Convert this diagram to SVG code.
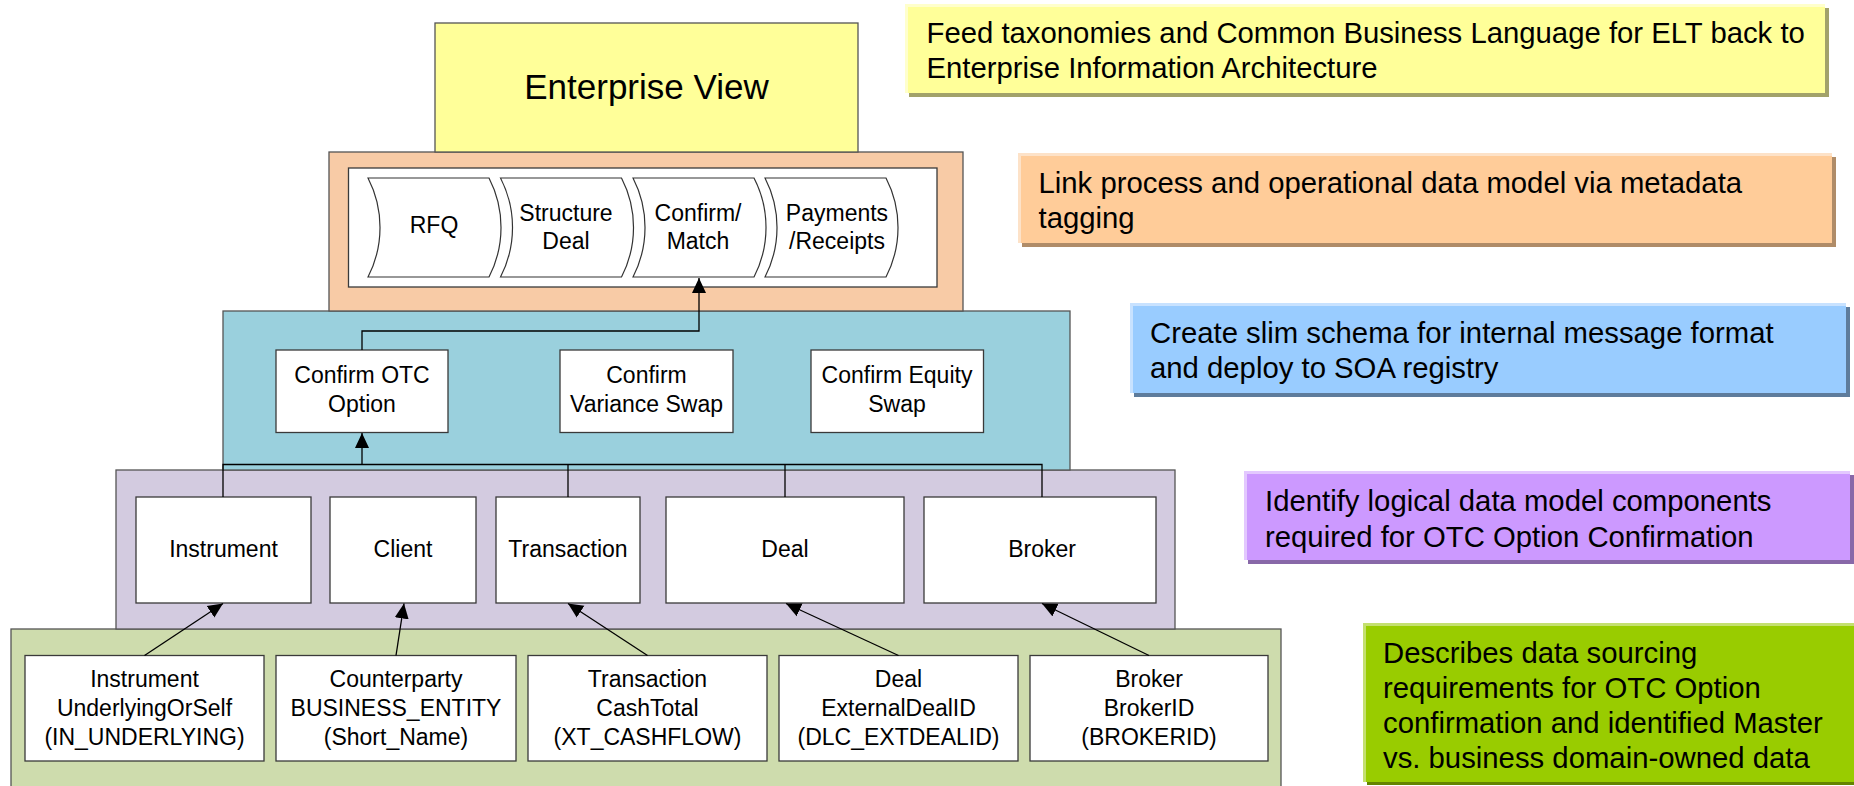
<svg xmlns="http://www.w3.org/2000/svg" width="1854" height="786" viewBox="0 0 1854 786">
  <defs>
    <marker id="arrow" markerUnits="userSpaceOnUse" markerWidth="16" markerHeight="15" viewBox="0 0 16 15" refX="15" refY="7.5" orient="auto">
      <path d="M0,0.5 L15,7.5 L0,14.5 Z" fill="#000"/>
    </marker>
  </defs>
  <style>
    .layer{stroke:#555;stroke-width:1.3}
    .box{fill:#fff;stroke:#3a3a3a;stroke-width:1.3}
    .step{fill:#fff;stroke:#333;stroke-width:1.2}
    .t{font-family:"Liberation Sans",Arial,sans-serif;font-size:23px;fill:#000;text-anchor:middle}
    .big{font-family:"Liberation Sans",Arial,sans-serif;font-size:35px;fill:#000;text-anchor:middle}
    .note{font-family:"Liberation Sans",Arial,sans-serif;font-size:29.3px;fill:#000}
    .wire{fill:none;stroke:#000;stroke-width:1.3}
  </style>

  <!-- stacked architecture layers -->
  <g id="layer-sourcing">
    <rect class="layer" x="11" y="629" width="1270" height="170" fill="#CEDCAD"/>
  </g>
  <g id="layer-logical">
    <rect class="layer" x="116" y="470" width="1059" height="159" fill="#D3CBE0"/>
  </g>
  <g id="layer-schema">
    <rect class="layer" x="223" y="311" width="847" height="159" fill="#9AD0DD"/>
  </g>
  <g id="layer-process">
    <rect class="layer" x="329" y="152" width="634" height="159" fill="#F8CBA6"/>
    <rect class="box" x="348.5" y="168" width="588.5" height="119"/>
  </g>
  <g id="enterprise-view">
    <rect class="layer" x="435" y="23" width="423" height="129" fill="#FFFF99"/>
    <text class="big" x="646.5" y="99">Enterprise View</text>
  </g>

  <!-- process steps: concave left edge, convex right edge -->
  <g id="step-rfq">
    <path class="step" d="M368,178 L489,178 A108,108 0 0 1 489,277 L368,277 A108,108 0 0 0 368,178 Z"/>
    <text class="t" x="434" y="233">RFQ</text>
  </g>
  <g id="step-structure-deal">
    <path class="step" d="M500.5,178 L621.5,178 A108,108 0 0 1 621.5,277 L500.5,277 A108,108 0 0 0 500.5,178 Z"/>
    <text class="t" x="566" y="221">Structure</text>
    <text class="t" x="566" y="248.5">Deal</text>
  </g>
  <g id="step-confirm-match">
    <path class="step" d="M633,178 L754,178 A108,108 0 0 1 754,277 L633,277 A108,108 0 0 0 633,178 Z"/>
    <text class="t" x="698" y="221">Confirm/</text>
    <text class="t" x="698" y="248.5">Match</text>
  </g>
  <g id="step-payments">
    <path class="step" d="M765,178 L886,178 A108,108 0 0 1 886,277 L765,277 A108,108 0 0 0 765,178 Z"/>
    <text class="t" x="837" y="221">Payments</text>
    <text class="t" x="837" y="248.5">/Receipts</text>
  </g>

  <!-- message schemas -->
  <g id="confirm-otc-option">
    <rect class="box" x="276" y="350" width="172" height="82.5"/>
    <text class="t" x="362" y="383">Confirm OTC</text>
    <text class="t" x="362" y="411.5">Option</text>
  </g>
  <g id="confirm-variance-swap">
    <rect class="box" x="560" y="350" width="173" height="82.5"/>
    <text class="t" x="646.5" y="383">Confirm</text>
    <text class="t" x="646.5" y="411.5">Variance Swap</text>
  </g>
  <g id="confirm-equity-swap">
    <rect class="box" x="811" y="350" width="172.5" height="82.5"/>
    <text class="t" x="897" y="383">Confirm Equity</text>
    <text class="t" x="897" y="411.5">Swap</text>
  </g>

  <!-- logical data model components -->
  <g id="instrument">
    <rect class="box" x="136" y="497" width="175" height="106"/>
    <text class="t" x="223.5" y="557">Instrument</text>
  </g>
  <g id="client">
    <rect class="box" x="330" y="497" width="146" height="106"/>
    <text class="t" x="403" y="557">Client</text>
  </g>
  <g id="transaction">
    <rect class="box" x="496" y="497" width="144" height="106"/>
    <text class="t" x="568" y="557">Transaction</text>
  </g>
  <g id="deal">
    <rect class="box" x="666" y="497" width="238" height="106"/>
    <text class="t" x="785" y="557">Deal</text>
  </g>
  <g id="broker">
    <rect class="box" x="924" y="497" width="232" height="106"/>
    <text class="t" x="1042" y="557">Broker</text>
  </g>

  <!-- physical source fields -->
  <g id="src-instrument">
    <rect class="box" x="25" y="655.5" width="239" height="105.5"/>
    <text class="t" x="144.5" y="687">Instrument</text>
    <text class="t" x="144.5" y="716">UnderlyingOrSelf</text>
    <text class="t" x="144.5" y="744.5">(IN_UNDERLYING)</text>
  </g>
  <g id="src-counterparty">
    <rect class="box" x="276" y="655.5" width="240" height="105.5"/>
    <text class="t" x="396" y="687">Counterparty</text>
    <text class="t" x="396" y="716">BUSINESS_ENTITY</text>
    <text class="t" x="396" y="744.5">(Short_Name)</text>
  </g>
  <g id="src-transaction">
    <rect class="box" x="528" y="655.5" width="239" height="105.5"/>
    <text class="t" x="647.5" y="687">Transaction</text>
    <text class="t" x="647.5" y="716">CashTotal</text>
    <text class="t" x="647.5" y="744.5">(XT_CASHFLOW)</text>
  </g>
  <g id="src-deal">
    <rect class="box" x="779" y="655.5" width="239" height="105.5"/>
    <text class="t" x="898.5" y="687">Deal</text>
    <text class="t" x="898.5" y="716">ExternalDealID</text>
    <text class="t" x="898.5" y="744.5">(DLC_EXTDEALID)</text>
  </g>
  <g id="src-broker">
    <rect class="box" x="1030" y="655.5" width="238" height="105.5"/>
    <text class="t" x="1149" y="687">Broker</text>
    <text class="t" x="1149" y="716">BrokerID</text>
    <text class="t" x="1149" y="744.5">(BROKERID)</text>
  </g>

  <!-- connectors -->
  <g id="connectors">
    <path class="wire" d="M362,350 V331 H699 V278" marker-end="url(#arrow)"/>
    <path class="wire" d="M223,497 V464.5 H1042 V497"/>
    <path class="wire" d="M568,464.5 V497"/>
    <path class="wire" d="M785,464.5 V497"/>
    <path class="wire" d="M362,464.5 V433" marker-end="url(#arrow)"/>
    <path class="wire" d="M144.5,655.5 L223,603.5" marker-end="url(#arrow)"/>
    <path class="wire" d="M396,655.5 L404,603.5" marker-end="url(#arrow)"/>
    <path class="wire" d="M647.5,655.5 L568,603.5" marker-end="url(#arrow)"/>
    <path class="wire" d="M898.5,655.5 L786,603.5" marker-end="url(#arrow)"/>
    <path class="wire" d="M1149,655.5 L1042,603.5" marker-end="url(#arrow)"/>
  </g>

  <!-- explanatory notes: shadow, light bevel, face -->
  <g id="note-enterprise">
    <rect x="909" y="8" width="920" height="89" fill="#A2A26A"/>
    <rect x="905" y="4" width="920" height="89" fill="#FFFFCC"/>
    <rect x="908" y="7" width="917" height="86" fill="#FFFF99"/>
    <text class="note" x="926.5" y="43">Feed taxonomies and Common Business Language for ELT back to</text>
    <text class="note" x="926.5" y="78">Enterprise Information Architecture</text>
  </g>
  <g id="note-process">
    <rect x="1022" y="157" width="814" height="90" fill="#B08C68"/>
    <rect x="1018" y="153" width="814" height="90" fill="#FDE2C8"/>
    <rect x="1021" y="156" width="811" height="87" fill="#FFCC99"/>
    <text class="note" x="1038.5" y="193">Link process and operational data model via metadata</text>
    <text class="note" x="1038.5" y="227.5">tagging</text>
  </g>
  <g id="note-schema">
    <rect x="1134" y="307" width="716" height="90" fill="#5E7C9C"/>
    <rect x="1130" y="303" width="716" height="90" fill="#C8E2FF"/>
    <rect x="1133" y="306" width="713" height="87" fill="#99CCFF"/>
    <text class="note" x="1150" y="343">Create slim schema for internal message format</text>
    <text class="note" x="1150" y="378">and deploy to SOA registry</text>
  </g>
  <g id="note-logical">
    <rect x="1248" y="475" width="606" height="89" fill="#8868A8"/>
    <rect x="1244" y="471" width="606" height="89" fill="#E3C8FF"/>
    <rect x="1247" y="474" width="603" height="86" fill="#CC99FF"/>
    <text class="note" x="1265" y="511">Identify logical data model components</text>
    <text class="note" x="1265" y="546.5">required for OTC Option Confirmation</text>
  </g>
  <g id="note-sourcing">
    <rect x="1367" y="627" width="490" height="158" fill="#648400"/>
    <rect x="1363" y="623" width="492" height="159" fill="#C4E070"/>
    <rect x="1366" y="626" width="489" height="156" fill="#99CC00"/>
    <text class="note" x="1383" y="663">Describes data sourcing</text>
    <text class="note" x="1383" y="698">requirements for OTC Option</text>
    <text class="note" x="1383" y="733">confirmation and identified Master</text>
    <text class="note" x="1383" y="768">vs. business domain-owned data</text>
  </g>
</svg>
